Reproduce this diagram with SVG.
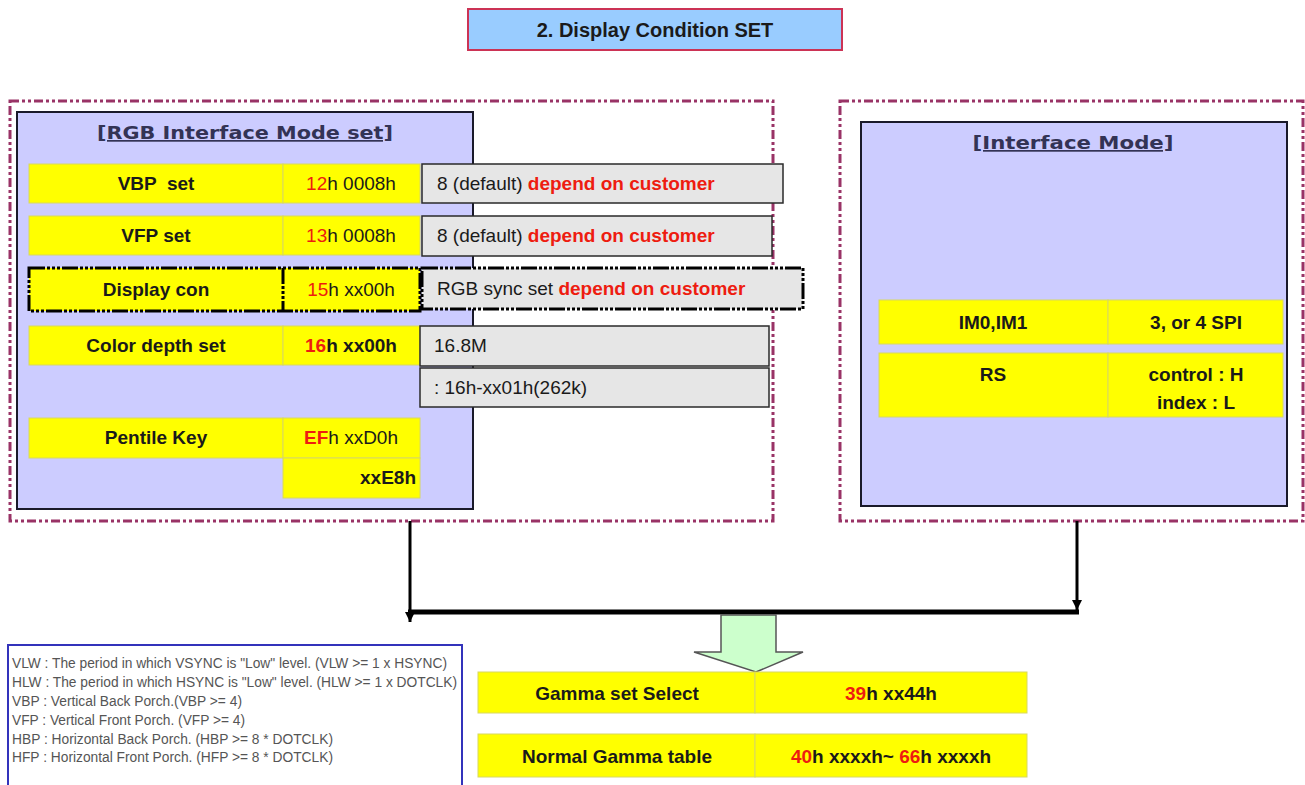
<svg xmlns="http://www.w3.org/2000/svg" width="1305" height="785" viewBox="0 0 1305 785">
<style>
text{font-family:"Liberation Sans",Arial,sans-serif;fill:#1a1a1a}
.b{font-weight:bold}
.lbl{font-size:19px;font-weight:bold;text-anchor:middle}
.val{font-size:19px;text-anchor:middle}
.r{fill:#ee1c10}
.gt{font-size:19px}
.yel{fill:#ffff00;stroke:#d8d860;stroke-width:1}
.gray{fill:#e6e6e6;stroke:#2a2a2a;stroke-width:1.5}
.outer{fill:none;stroke:#993366;stroke-width:3;stroke-dasharray:9 3 3 3 3 3}
.panel{fill:#ccccff;stroke:#1a1a2a;stroke-width:2}
.ttl{font-family:"DejaVu Sans",Verdana,sans-serif;font-weight:bold;font-size:17px;fill:#333355;text-anchor:middle;text-decoration:underline}
.thick{fill:none;stroke:#000;stroke-width:3;stroke-dasharray:16 2 3 2 3 2 3 2}
.leg{font-size:14px;fill:#555}
.conn{stroke:#000;fill:none}
</style>
<defs>
<marker id="ah" viewBox="0 0 10 10" refX="10" refY="5" markerWidth="10" markerHeight="10" markerUnits="userSpaceOnUse" orient="auto">
<path d="M0,0 L10,5 L0,10 Z" fill="#000"/>
</marker>
</defs>

<g id="title">
<rect x="468" y="9" width="374" height="41" fill="#99ccff" stroke="#cc3355" stroke-width="2"/>
<text x="655" y="37" class="b" font-size="20" text-anchor="middle">2. Display Condition SET</text>
</g>

<g id="rgb-group">
<rect x="10" y="101" width="763" height="420" class="outer"/>
<rect x="17" y="112" width="456" height="397" class="panel"/>
<text x="245" y="139" class="ttl" textLength="296" lengthAdjust="spacingAndGlyphs">[RGB Interface Mode set]</text>
</g>

<g id="vbp">
<rect x="29" y="164" width="254" height="39" class="yel"/>
<rect x="283" y="164" width="137" height="39" class="yel"/>
<text x="156" y="190" class="lbl" xml:space="preserve">VBP  set</text>
<text x="351" y="190" class="val"><tspan class="r">12</tspan>h 0008h</text>
<rect x="422" y="164" width="361" height="39" class="gray"/>
<text x="437" y="190" class="gt">8 (default) <tspan class="r b">depend on customer</tspan></text>
</g>

<g id="vfp">
<rect x="29" y="216" width="254" height="39" class="yel"/>
<rect x="283" y="216" width="137" height="39" class="yel"/>
<text x="156" y="242" class="lbl">VFP set</text>
<text x="351" y="242" class="val"><tspan class="r">13</tspan>h 0008h</text>
<rect x="422" y="216" width="350" height="40" class="gray"/>
<text x="437" y="242" class="gt">8 (default) <tspan class="r b">depend on customer</tspan></text>
</g>

<g id="display-con">
<rect x="29" y="268" width="254" height="43" fill="#ffff00"/>
<rect x="283" y="268" width="137" height="43" fill="#ffff00"/>
<rect x="29" y="268" width="391" height="43" class="thick"/>
<line x1="283" y1="268" x2="283" y2="311" class="thick"/>
<text x="156" y="296" class="lbl">Display con</text>
<text x="351" y="296" class="val"><tspan class="r">15</tspan>h xx00h</text>
<rect x="422" y="268" width="381" height="41" fill="#e6e6e6"/>
<rect x="422" y="268" width="381" height="41" class="thick"/>
<text x="437" y="295" class="gt">RGB sync set <tspan class="r b">depend on customer</tspan></text>
</g>

<g id="color-depth">
<rect x="29" y="326" width="254" height="39" class="yel"/>
<rect x="283" y="326" width="137" height="39" class="yel"/>
<text x="156" y="352" class="lbl">Color depth set</text>
<text x="351" y="352" class="val b"><tspan class="r">16</tspan>h xx00h</text>
<rect x="420" y="326" width="349" height="40" class="gray"/>
<text x="434" y="352" class="gt">16.8M</text>
<rect x="420" y="368" width="349" height="39" class="gray"/>
<text x="434" y="394" class="gt">: 16h-xx01h(262k)</text>
</g>

<g id="pentile">
<rect x="29" y="418" width="254" height="40" class="yel"/>
<rect x="283" y="418" width="137" height="40" class="yel"/>
<rect x="283" y="458" width="137" height="40" class="yel"/>
<text x="156" y="444" class="lbl">Pentile Key</text>
<text x="351" y="444" class="val"><tspan class="r b">EF</tspan>h xxD0h</text>
<text x="416" y="484" class="val b" style="text-anchor:end">xxE8h</text>
</g>

<g id="interface-group">
<rect x="840" y="101" width="463" height="420" class="outer"/>
<rect x="861" y="122" width="426" height="384" class="panel"/>
<text x="1073" y="149" class="ttl" textLength="201" lengthAdjust="spacingAndGlyphs">[Interface Mode]</text>
</g>

<g id="im">
<rect x="879" y="300" width="229" height="44" class="yel"/>
<rect x="1108" y="300" width="175" height="44" class="yel"/>
<text x="993" y="329" class="lbl">IM0,IM1</text>
<text x="1196" y="329" class="lbl">3, or 4 SPI</text>
</g>

<g id="rs">
<rect x="879" y="353" width="229" height="64" class="yel"/>
<rect x="1108" y="353" width="175" height="64" class="yel"/>
<text x="993" y="381" class="lbl">RS</text>
<text x="1196" y="381" class="lbl">control : H</text>
<text x="1196" y="409" class="lbl">index : L</text>
</g>

<g id="connectors">
<line x1="410" y1="521" x2="410" y2="622" class="conn" stroke-width="3" marker-end="url(#ah)"/>
<line x1="1077" y1="521" x2="1077" y2="610" class="conn" stroke-width="3" marker-end="url(#ah)"/>
<line x1="408" y1="612" x2="1079" y2="612" class="conn" stroke-width="5"/>
</g>

<g id="big-arrow">
<path d="M721,615 L776,615 L776,652 L803,652 L756,672 L694,652 L721,652 Z" fill="#ccffcc" stroke="#555" stroke-width="1.5"/>
</g>

<g id="gamma-select">
<rect x="478" y="672" width="277" height="41" class="yel"/>
<rect x="755" y="672" width="272" height="41" class="yel"/>
<text x="617" y="700" class="lbl">Gamma set Select</text>
<text x="891" y="700" class="lbl"><tspan class="r">39</tspan>h xx44h</text>
</g>

<g id="gamma-table">
<rect x="478" y="734" width="277" height="43" class="yel"/>
<rect x="755" y="734" width="272" height="43" class="yel"/>
<text x="617" y="763" class="lbl">Normal Gamma table</text>
<text x="891" y="763" class="lbl"><tspan class="r">40</tspan>h xxxxh~ <tspan class="r">66</tspan>h xxxxh</text>
</g>

<g id="legend">
<rect x="8" y="645" width="454" height="145" fill="#fff" stroke="#3333bb" stroke-width="2"/>
<text x="12" y="668" class="leg" textLength="435" lengthAdjust="spacingAndGlyphs">VLW : The period in which VSYNC is "Low" level. (VLW &gt;= 1 x HSYNC)</text>
<text x="12" y="687" class="leg" textLength="445" lengthAdjust="spacingAndGlyphs">HLW : The period in which HSYNC is "Low" level. (HLW &gt;= 1 x DOTCLK)</text>
<text x="12" y="706" class="leg" textLength="230" lengthAdjust="spacingAndGlyphs">VBP : Vertical Back Porch.(VBP &gt;= 4)</text>
<text x="12" y="725" class="leg" textLength="233" lengthAdjust="spacingAndGlyphs">VFP : Vertical Front Porch. (VFP &gt;= 4)</text>
<text x="12" y="744" class="leg" textLength="321" lengthAdjust="spacingAndGlyphs">HBP : Horizontal Back Porch. (HBP &gt;= 8 * DOTCLK)</text>
<text x="12" y="762" class="leg" textLength="321" lengthAdjust="spacingAndGlyphs">HFP : Horizontal Front Porch. (HFP &gt;= 8 * DOTCLK)</text>
</g>
</svg>
